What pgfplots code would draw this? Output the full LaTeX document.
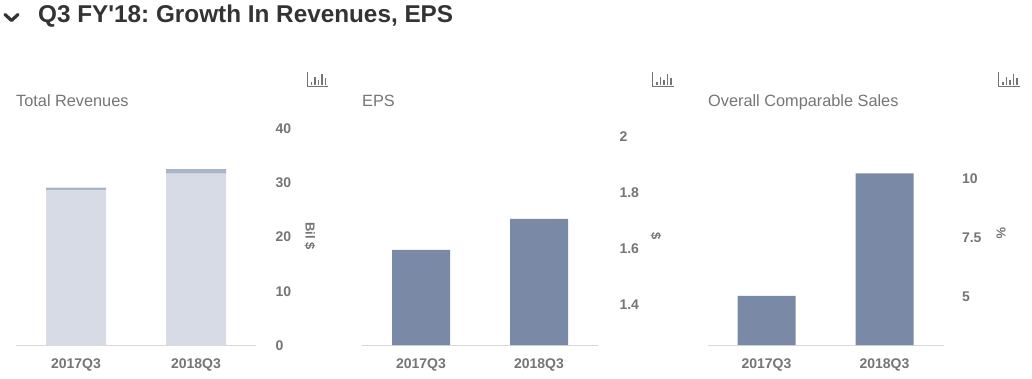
\documentclass[border=0pt]{standalone}
\usepackage{pgfplots}
\pgfplotsset{compat=1.18}
\usepackage{fontspec}
\setmainfont{Liberation Sans}
\newfontfamily\plainapos{Liberation Sans}
\definecolor{txt}{HTML}{757575}
\definecolor{ttl}{HTML}{333333}
\definecolor{barA}{HTML}{7A8AA6}
\definecolor{barL}{HTML}{D6DBE5}
\definecolor{barT}{HTML}{A8B4C8}
\definecolor{base}{HTML}{D9D9D9}
\newcommand{\chartIcon}[2]{%
  \begin{scope}[shift={(#1pt,#2pt)},draw=txt,line width=1.8pt]
    \draw[line width=0.8pt] (0,14pt) -- (0,0) -- (21pt,0);
    \draw (4.5pt,1pt) -- (4.5pt,4pt);
    \draw (8pt,1pt) -- (8pt,9pt);
    \draw (11.5pt,1pt) -- (11.5pt,6pt);
    \draw (15pt,1pt) -- (15pt,12pt);
    \draw (18.5pt,1pt) -- (18.5pt,8pt);
  \end{scope}}
\pgfplotsset{
  panel/.style={
    scale only axis,
    xmin=-0.5, xmax=1.5,
    axis x line*=bottom, axis y line*=right,
    x axis line style={draw=base,line width=1pt,-},
    y axis line style={draw=none},
    major tick length=0pt,
    xtick={0,1}, xticklabels={2017Q3,2018Q3},
    /pgf/number format/assume math mode=true,
    ticklabel style={font=\fontsize{14}{16}\selectfont\bfseries,text=txt},
    xticklabel style={yshift=-10pt},
    clip=false,
  }
}
\begin{document}
\frenchspacing
\begin{tikzpicture}[x=1pt,y=1pt]
\useasboundingbox (0,0) rectangle (1032pt,378pt);
\fill[white] (0,0) rectangle (1032pt,378pt);

% Heading
\draw[ttl,line width=3.2pt,line cap=round,line join=round] (5pt,363.5pt) -- (11.5pt,357.5pt) -- (18pt,363.5pt);
\node[anchor=base west,inner sep=0,text=ttl,font=\plainapos\fontsize{24.3}{26}\selectfont\bfseries] at (38pt,355pt) {Q3 FY'18: Growth In Revenues, EPS};

% Panel titles
\node[anchor=base west,inner sep=0,text=txt,font=\fontsize{16.3}{18}\selectfont] at (16pt,271pt) {Total Revenues};
\node[anchor=base west,inner sep=0,text=txt,font=\fontsize{16.3}{18}\selectfont] at (362pt,271pt) {EPS};
\node[anchor=base west,inner sep=0,text=txt,font=\fontsize{16.3}{18}\selectfont] at (708pt,271pt) {Overall Comparable Sales};

% Icons
\chartIcon{307}{292}
\chartIcon{652.5}{292}
\chartIcon{998.5}{292}

% Total revenues
\begin{axis}[panel, at={(16pt,33pt)}, anchor=south west, width=240pt, height=217pt,
  bar width=60pt, yticklabel style={anchor=west,xshift=16pt,yshift=-0.5pt},
  ybar stacked, ymin=0, ymax=40, ytick={0,10,20,30,40}]
\addplot[fill=barL,draw=none] coordinates {(0,28.5) (1,31.6)};
\addplot[fill=barT,draw=none] coordinates {(0,0.5) (1,0.8)};
\end{axis}
\node[rotate=-90,text=txt,font=\fontsize{13}{15}\selectfont\bfseries,inner sep=0] at (310pt,142pt) {Bil \$};

% EPS
\begin{axis}[panel, at={(362pt,33pt)}, anchor=south west, width=236pt, height=209pt,
  bar width=58pt, yticklabel style={anchor=west,xshift=18pt,yshift=-0.5pt},
  ybar, ymin=1.2536, ymax=2, ytick={1.4,1.6,1.8,2}, yticklabels={1.4,1.6,1.8,2},
  bar shift=0pt]
\addplot[fill=barA,draw=none] coordinates {(0,1.593) (1,1.704)};
\end{axis}
\node[rotate=-90,text=txt,font=\fontsize{13}{15}\selectfont\bfseries,inner sep=0] at (656pt,142pt) {\$};

% Comparable sales
\begin{axis}[panel, at={(707.5pt,33pt)}, anchor=south west, width=236pt, height=214.2pt,
  bar width=58pt, yticklabel style={anchor=west,xshift=15pt,yshift=-0.5pt},
  ybar, ymin=2.92, ymax=12, ytick={5,7.5,10}, yticklabels={5,7.5,10},
  bar shift=0pt]
\addplot[fill=barA,draw=none] coordinates {(0,5.0) (1,10.2)};
\end{axis}
\node[rotate=-90,text=txt,font=\fontsize{13}{15}\selectfont\bfseries,inner sep=0] at (1001pt,145pt) {\%};
\end{tikzpicture}
\end{document}
